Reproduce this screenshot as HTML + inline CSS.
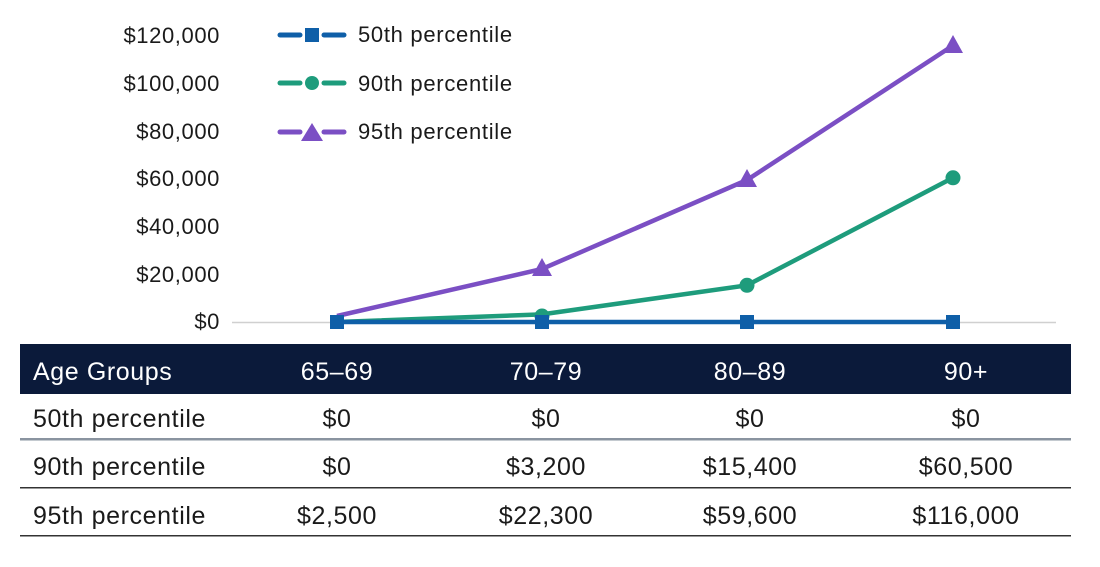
<!DOCTYPE html>
<html><head><style>
body{margin:0;background:#fff;width:1100px;height:562px;overflow:hidden}
svg text{font-family:"Liberation Sans",sans-serif;fill:#1a1a1a}
</style></head><body>
<svg width="1100" height="562" xmlns="http://www.w3.org/2000/svg">
<g font-size="22" text-anchor="end" letter-spacing="0.6">
<text x="220" y="43">$120,000</text>
<text x="220" y="91">$100,000</text>
<text x="220" y="139">$80,000</text>
<text x="220" y="186">$60,000</text>
<text x="220" y="234">$40,000</text>
<text x="220" y="282">$20,000</text>
<text x="220" y="329">$0</text>
</g>
<line x1="232" y1="322.5" x2="1056" y2="322.5" stroke="#d0d0d0" stroke-width="1.5"/>
<g stroke-width="5" stroke-linecap="round">
<line x1="280" y1="35" x2="300" y2="35" stroke="#0f5fa8"/><line x1="324" y1="35" x2="344" y2="35" stroke="#0f5fa8"/>
<line x1="280" y1="83" x2="300" y2="83" stroke="#1e9c7c"/><line x1="324" y1="83" x2="344" y2="83" stroke="#1e9c7c"/>
<line x1="280" y1="132" x2="300" y2="132" stroke="#7b4fc4"/><line x1="324" y1="132" x2="344" y2="132" stroke="#7b4fc4"/>
</g>
<rect x="305" y="28" width="14" height="14" fill="#0f5fa8"/>
<circle cx="312" cy="83" r="7" fill="#1e9c7c"/>
<polygon points="312,123 323,141 301,141" fill="#7b4fc4"/>
<g font-size="22" letter-spacing="0.7"><text x="358" y="42">50th percentile</text><text x="358" y="91">90th percentile</text><text x="358" y="139">95th percentile</text></g>
<polyline points="337,316 542,269 747,180 953,45.5" fill="none" stroke="#7b4fc4" stroke-width="4.5"/>
<polyline points="337,322 542,314.4 747,285.3 953,177.8" fill="none" stroke="#1e9c7c" stroke-width="4.5"/>
<polyline points="337,322 542,322 747,322 953,322" fill="none" stroke="#0f5fa8" stroke-width="4.5"/>
<g fill="#7b4fc4"><polygon points="542,258 552,276 532,276"/><polygon points="747,169 757,187 737,187"/><polygon points="953,35 963,53 943,53"/></g>
<g fill="#1e9c7c"><circle cx="542" cy="316" r="7.5"/><circle cx="747" cy="285.3" r="7.5"/><circle cx="953" cy="177.8" r="7.5"/></g>
<g fill="#0f5fa8"><rect x="330" y="315" width="14" height="14"/><rect x="535" y="315" width="14" height="14"/><rect x="740" y="315" width="14" height="14"/><rect x="946" y="315" width="14" height="14"/></g>
<rect x="20" y="344" width="1051" height="50" fill="#0b1a3a"/>
<g font-size="25" letter-spacing="0.6">
<text x="33" y="380" style="fill:#fff">Age Groups</text>
<g text-anchor="middle"><text x="337" y="380" style="fill:#fff">65–69</text><text x="546" y="380" style="fill:#fff">70–79</text><text x="750" y="380" style="fill:#fff">80–89</text><text x="966" y="380" style="fill:#fff">90+</text></g>
<text x="33" y="427">50th percentile</text>
<g text-anchor="middle"><text x="337" y="427">$0</text><text x="546" y="427">$0</text><text x="750" y="427">$0</text><text x="966" y="427">$0</text></g>
<text x="33" y="475">90th percentile</text>
<g text-anchor="middle"><text x="337" y="475">$0</text><text x="546" y="475">$3,200</text><text x="750" y="475">$15,400</text><text x="966" y="475">$60,500</text></g>
<text x="33" y="524">95th percentile</text>
<g text-anchor="middle"><text x="337" y="524">$2,500</text><text x="546" y="524">$22,300</text><text x="750" y="524">$59,600</text><text x="966" y="524">$116,000</text></g>
</g>
<rect x="20" y="438" width="1051" height="2.5" fill="#8a94a0"/>
<rect x="20" y="487" width="1051" height="1.5" fill="#333"/>
<rect x="20" y="535" width="1051" height="1.5" fill="#333"/>
</svg>
</body></html>
